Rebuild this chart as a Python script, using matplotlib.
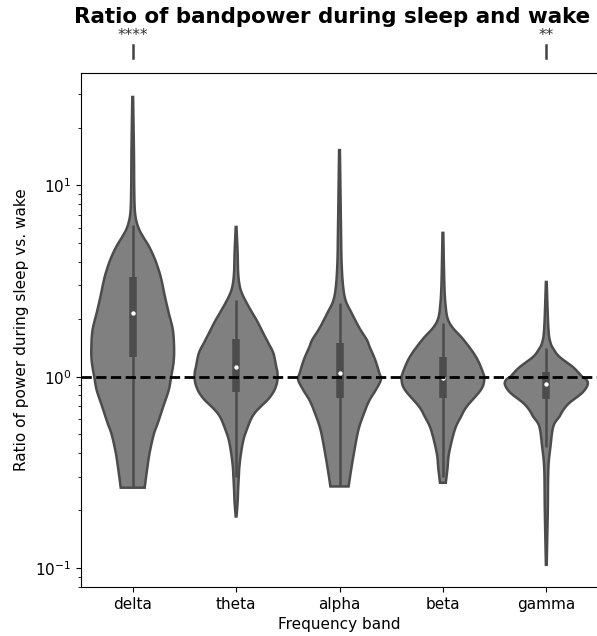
import matplotlib.pyplot as plt
import numpy as np

# frequency bands on the x axis
bands = ["delta", "theta", "alpha", "beta", "gamma"]

# violin outlines: ratio value and relative half width (1 = widest)
delta_vals = [0.263, 0.33, 0.401, 0.50, 0.575, 0.70, 0.85, 1.0, 1.2, 1.43, 1.76, 2.16, 2.62, 3.1, 3.49, 4.1, 4.77, 5.4, 5.86, 6.5, 7.5, 10, 15, 29.0]
delta_dens = [0.29, 0.35, 0.41, 0.51, 0.61, 0.74, 0.87, 0.93, 0.99, 1.0, 0.97, 0.87, 0.78, 0.71, 0.65, 0.54, 0.40, 0.25, 0.16, 0.09, 0.05, 0.036, 0.03, 0.01]

theta_vals = [0.186, 0.22, 0.26, 0.30, 0.34, 0.40, 0.47, 0.53, 0.60, 0.65, 0.70, 0.76, 0.83, 0.90, 0.965, 1.05, 1.13, 1.33, 1.50, 1.70, 1.95, 2.16, 2.4, 2.7, 3.0, 3.5, 4.5, 6.07]
theta_dens = [0.01, 0.036, 0.05, 0.065, 0.08, 0.12, 0.18, 0.26, 0.36, 0.46, 0.60, 0.77, 0.90, 0.97, 1.0, 1.0, 0.97, 0.90, 0.78, 0.65, 0.51, 0.39, 0.27, 0.15, 0.085, 0.05, 0.036, 0.01]

alpha_vals = [0.267, 0.315, 0.40, 0.53, 0.65, 0.75, 0.855, 0.965, 1.05, 1.23, 1.43, 1.56, 1.8, 2.16, 2.5, 3.0, 4.0, 6.0, 15.3]
alpha_dens = [0.22, 0.27, 0.35, 0.46, 0.60, 0.72, 0.88, 1.0, 0.96, 0.86, 0.73, 0.66, 0.48, 0.29, 0.15, 0.085, 0.05, 0.036, 0.01]

beta_vals = [0.279, 0.33, 0.40, 0.53, 0.62, 0.70, 0.855, 0.965, 1.05, 1.27, 1.56, 1.8, 2.0, 2.3, 3.0, 5.65]
beta_dens = [0.07, 0.11, 0.15, 0.29, 0.44, 0.58, 0.92, 1.0, 0.97, 0.80, 0.50, 0.24, 0.12, 0.07, 0.036, 0.01]

gamma_vals = [0.104, 0.2, 0.33, 0.43, 0.55, 0.62, 0.67, 0.73, 0.825, 0.908, 0.965, 1.0, 1.05, 1.13, 1.27, 1.38, 1.51, 1.8, 3.13]
gamma_dens = [0.01, 0.036, 0.05, 0.10, 0.17, 0.32, 0.41, 0.56, 0.87, 1.0, 0.97, 0.87, 0.78, 0.63, 0.32, 0.19, 0.10, 0.05, 0.01]

# inner box stats: lower whisker, q1, median, q3, upper whisker
whisk_lo = [0.263, 0.30, 0.267, 0.30, 0.43]
q1 = [1.27, 0.835, 0.777, 0.777, 0.767]
medians = [2.16, 1.13, 1.04, 0.99, 0.92]
q3 = [3.33, 1.58, 1.50, 1.27, 1.06]
whisk_hi = [6.2, 2.52, 2.44, 1.91, 1.42]

# significance stars per band (empty = not significant)
stars = ["****", "", "", "", "**"]

outlines = [(delta_vals, delta_dens), (theta_vals, theta_dens), (alpha_vals, alpha_dens),
            (beta_vals, beta_dens), (gamma_vals, gamma_dens)]


def smooth_outline(vals, dens, n=12):
    # catmull-rom through the outline points (in log space) so the edge is curved
    p = np.column_stack([np.log10(vals), dens])
    p = np.vstack([p[0], p, p[-1]])
    out = []
    t = np.linspace(0, 1, n, endpoint=False)[:, None]
    for k in range(1, len(p) - 2):
        p0, p1, p2, p3 = p[k - 1], p[k], p[k + 1], p[k + 2]
        seg = 0.5 * (2 * p1 + (-p0 + p2) * t + (2 * p0 - 5 * p1 + 4 * p2 - p3) * t ** 2
                     + (-p0 + 3 * p1 - 3 * p2 + p3) * t ** 3)
        out.append(seg)
    out.append(p[-2][None, :])
    out = np.vstack(out)
    return 10 ** out[:, 0], np.clip(out[:, 1], 0, None)


fig = plt.figure(figsize=(5.97, 6.36), dpi=100)
ax = fig.add_axes([81 / 597, 49 / 636, 517 / 597, 514 / 636])
ax.set_yscale("log")

half = 0.4  # half of violin width
for i, (vals, dens) in enumerate(outlines):
    ys, d = smooth_outline(vals, dens)
    w = d * half
    xs = np.concatenate([i - w, (i + w)[::-1]])
    yy = np.concatenate([ys, ys[::-1]])
    ax.fill(xs, yy, facecolor="#808080", edgecolor="#4c4c4c", linewidth=1.8, zorder=2)
    # box + whiskers + median
    ax.plot([i, i], [whisk_lo[i], whisk_hi[i]], color="#4c4c4c", lw=1.8, solid_capstyle="butt", zorder=3)
    ax.plot([i, i], [q1[i], q3[i]], color="#4c4c4c", lw=5.4, solid_capstyle="butt", zorder=3)
    ax.scatter(i, medians[i], s=10, color="white", zorder=4, linewidths=0)
    if stars[i]:
        ax.plot([i, i], [1.029, 1.054], transform=ax.get_xaxis_transform(), color="#444444",
                lw=1.8, clip_on=False)
        ax.text(i, 1.058, stars[i], transform=ax.get_xaxis_transform(), ha="center", va="bottom",
                fontsize=11, color="#333333")

ax.axhline(1, color="black", ls="--", lw=2, zorder=5)

ax.set_xlim(-0.5, 4.5)
ax.set_ylim(0.0796, 38.7)
ax.set_xticks(range(len(bands)))
ax.set_xticklabels(bands)
ax.tick_params(labelsize=11)
ax.set_xlabel("Frequency band", fontsize=11)
ax.set_ylabel("Ratio of power during sleep vs. wake", fontsize=11)
fig.text(0.556, 0.973, "Ratio of bandpower during sleep and wake", ha="center", va="center",
         fontsize=15.4, fontweight="bold")

plt.savefig("out.png", dpi=100)
